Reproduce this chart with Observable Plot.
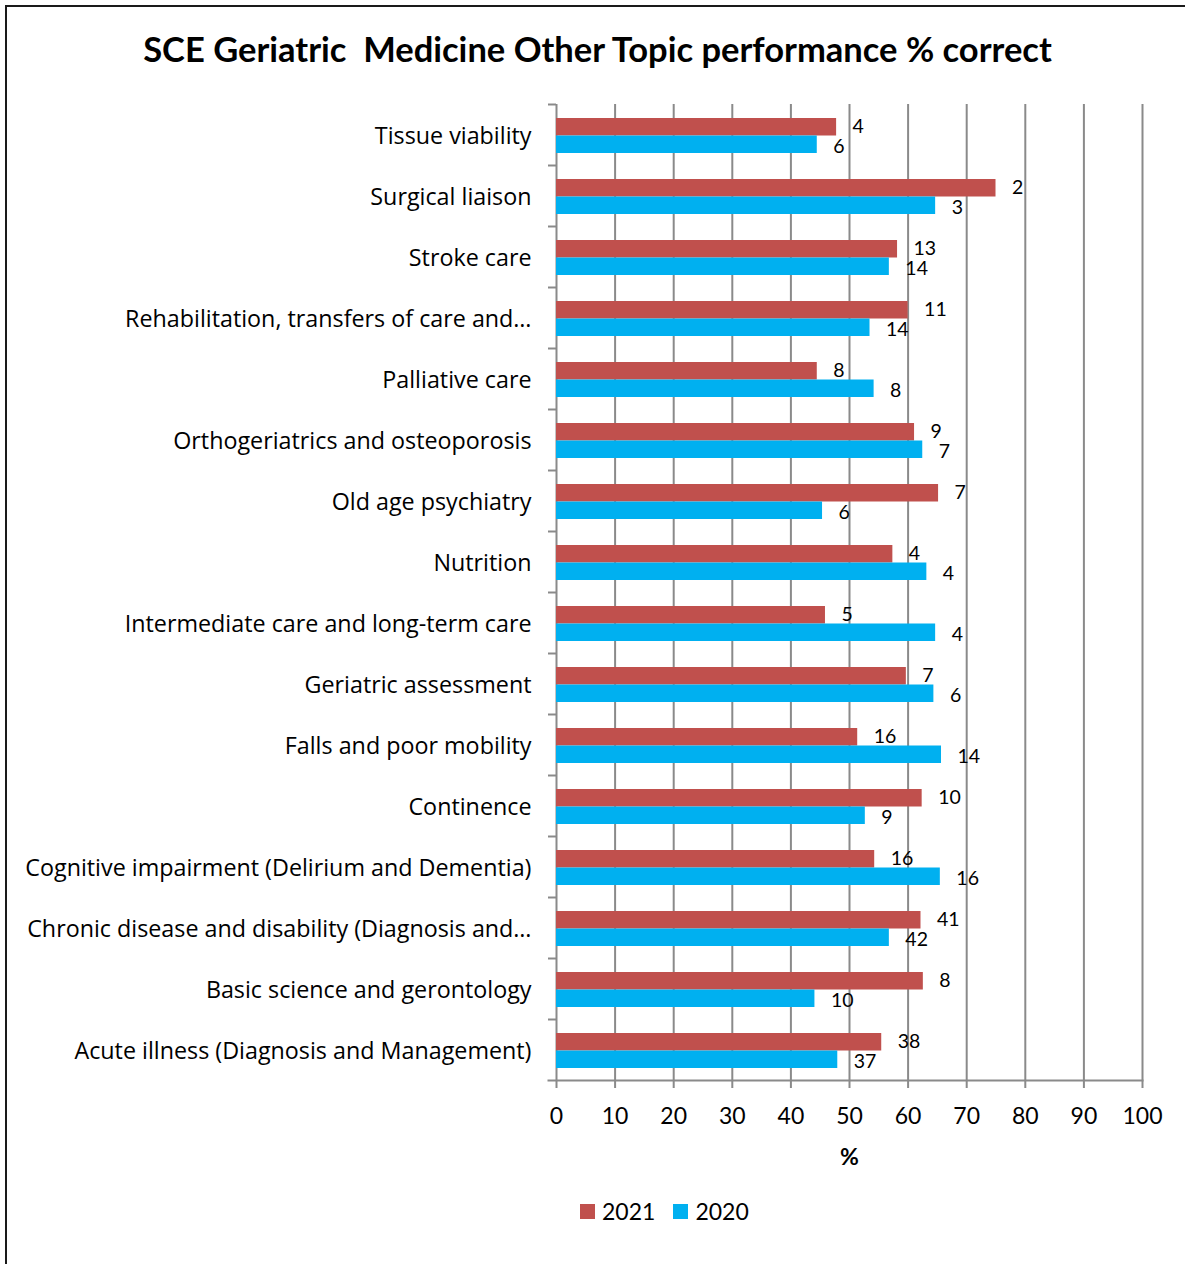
<!DOCTYPE html>
<html>
<head>
<meta charset="utf-8">
<script src="https://cdn.jsdelivr.net/npm/d3@7"></script>
<script src="https://cdn.jsdelivr.net/npm/@observablehq/plot@0.6"></script>
<style>
  html, body { margin: 0; padding: 0; background: #fff; overflow: hidden; }
  body { width: 1185px; height: 1264px; position: relative; font-family: Lato, "Open Sans", sans-serif; }
  #border { position: absolute; left: 5px; top: 5px; width: 1400px; height: 1400px; border: 2px solid #1a1a1a; box-sizing: border-box; }
  #title { position: absolute; left: 5px; top: 28px; width: 1185px; text-align: center; font-weight: bold; font-size: 34.5px; white-space: pre; color: #000; }
  #chart { position: absolute; left: 0; top: 80px; }
  #legend { position: absolute; top: 1197px; left: 580px; display: flex; align-items: center; font-size: 23px; color: #000; font-variant-numeric: tabular-nums; }
  #legend .item { display: flex; align-items: center; margin-right: 18px; }
  #legend .sw { width: 15px; height: 15px; margin-right: 7px; }
  [aria-label="x-axis label"] text { font-weight: bold; }
  [aria-label="y-axis tick label"] text { font-family: "Open Sans", Lato, sans-serif; }
</style>
</head>
<body>
<div id="border"></div>
<div id="title"></div>
<div id="chart"></div>
<div id="legend"></div>
<script>
const titleText = "SCE Geriatric  Medicine Other Topic performance % correct";
const xLabel = "%";

const categories = [
  "Tissue viability",
  "Surgical liaison",
  "Stroke care",
  "Rehabilitation, transfers of care and…",
  "Palliative care",
  "Orthogeriatrics and osteoporosis",
  "Old age psychiatry",
  "Nutrition",
  "Intermediate care and long-term care",
  "Geriatric assessment",
  "Falls and poor mobility",
  "Continence",
  "Cognitive impairment (Delirium and Dementia)",
  "Chronic disease and disability (Diagnosis and…",
  "Basic science and gerontology",
  "Acute illness (Diagnosis and Management)"
];

const years = ["2021", "2020"];
const colors = ["#C0504D", "#00B0F0"];

const pct2021 = [47.8, 75.0, 58.2, 60.0, 44.5, 61.1, 65.2, 57.4, 45.9, 59.7, 51.4, 62.4, 54.3, 62.2, 62.6, 55.5];
const pct2020 = [44.5, 64.7, 56.8, 53.5, 54.2, 62.5, 45.4, 63.2, 64.7, 64.4, 65.7, 52.7, 65.5, 56.8, 44.1, 48.0];

const n2021 = [4, 2, 13, 11, 8, 9, 7, 4, 5, 7, 16, 10, 16, 41, 8, 38];
const n2020 = [6, 3, 14, 14, 8, 7, 6, 4, 4, 6, 14, 9, 16, 42, 10, 37];

const xTicks = [0, 10, 20, 30, 40, 50, 60, 70, 80, 90, 100];

const d2021 = categories.map((c, i) => ({category: c, value: pct2021[i], n: n2021[i]}));
const d2020 = categories.map((c, i) => ({category: c, value: pct2020[i], n: n2020[i]}));

document.getElementById("title").textContent = titleText;

const gray = "#8a8a8a";

const chart = Plot.plot({
  width: 1185,
  height: 1100,
  marginLeft: 556,
  marginRight: 43,
  marginTop: 24,
  marginBottom: 100,
  style: {fontFamily: "Lato, 'Open Sans', sans-serif", color: "#000", background: "transparent"},
  x: {domain: [0, 100]},
  y: {domain: categories, padding: 0},
  marks: [
    Plot.ruleX(xTicks, {stroke: gray, strokeWidth: 2}),
    Plot.frame({anchor: "bottom", stroke: gray, strokeWidth: 2, insetLeft: -8}),
    Plot.barX(d2021, {x: "value", y: "category", fill: colors[0], insetTop: 14, insetBottom: 29.5}),
    Plot.barX(d2020, {x: "value", y: "category", fill: colors[1], insetTop: 31.5, insetBottom: 12}),
    Plot.text(d2021, {x: "value", y: "category", text: "n", textAnchor: "start", dx: 16, dy: -8, fontSize: 19.5, fill: "#000"}),
    Plot.text(d2020, {x: "value", y: "category", text: "n", textAnchor: "start", dx: 16, dy: 12, fontSize: 19.5, fill: "#000"}),
    Plot.axisY({tickSize: 0, tickPadding: 25, fontSize: 23.3, dy: 1.5, label: null}),
    Plot.axisY({text: null, tickSize: 8, dy: -30.5, stroke: gray, strokeWidth: 2, label: null}),
    Plot.axisX({ticks: xTicks, tickSize: 8, tickPadding: 19, fontSize: 23, stroke: gray, strokeWidth: 2,
      label: xLabel, labelAnchor: "center", labelArrow: "none", labelOffset: 84})
  ]
});
document.getElementById("chart").appendChild(chart);

const legend = document.getElementById("legend");
years.forEach((y, i) => {
  const item = document.createElement("div");
  item.className = "item";
  const sw = document.createElement("div");
  sw.className = "sw";
  sw.style.background = colors[i];
  const t = document.createElement("span");
  t.textContent = y;
  item.appendChild(sw);
  item.appendChild(t);
  legend.appendChild(item);
});
</script>
</body>
</html>
